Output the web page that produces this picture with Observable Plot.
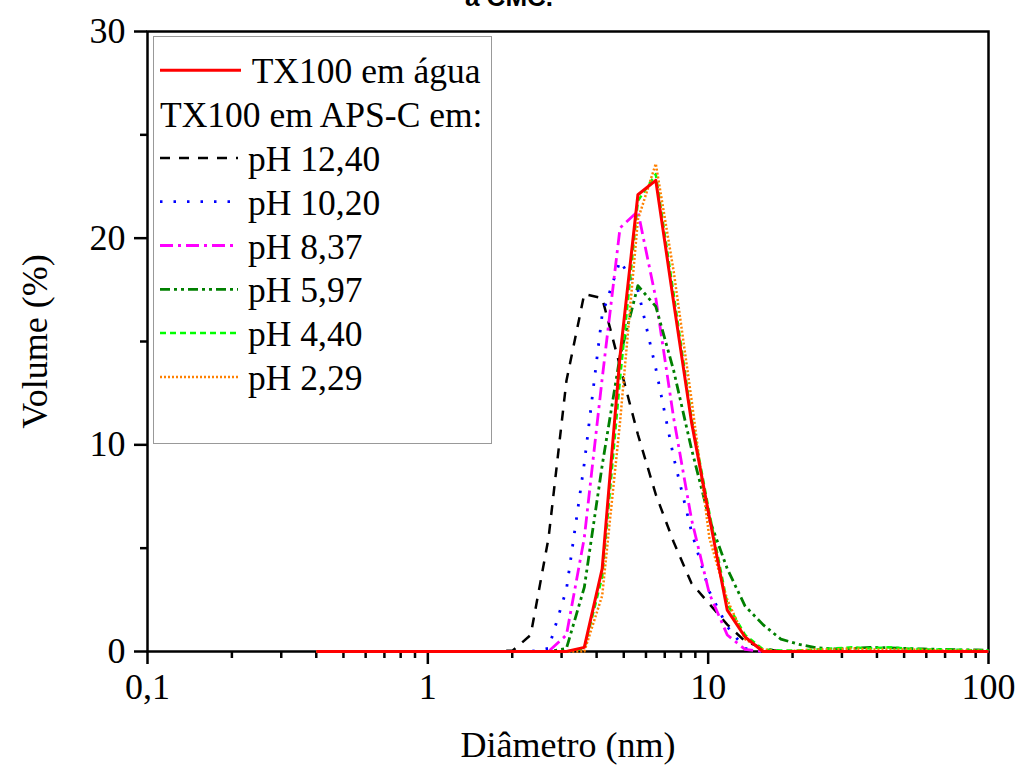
<!DOCTYPE html>
<html><head><meta charset="utf-8">
<script src="https://cdn.jsdelivr.net/npm/d3@7"></script>
<script src="https://cdn.jsdelivr.net/npm/@observablehq/plot@0.6"></script>
<style>
body{margin:0;background:#fff;}
#wrap{position:relative;width:1016px;height:765px;overflow:hidden;background:#fff;}
#legend{position:absolute;left:153px;top:36px;}
</style></head>
<body><div id="wrap"></div>
<script>
// Diameter bins (nm)
const diameters = [0.4, 0.4632, 0.5365, 0.6213, 0.7195, 0.8332, 0.9649, 1.117, 1.294, 1.499, 1.736, 2.01, 2.328, 2.696, 3.122, 3.615, 4.187, 4.849, 5.615, 6.503, 7.531, 8.721, 10.1, 11.7, 13.54, 15.69, 18.17, 21.04, 24.36, 28.21, 32.67, 37.84, 43.82, 50.75, 58.77, 68.06, 78.82, 91.28, 105.7];
// Volume (%) per series
const agua   = [0,0,0,0,0,0,0,0,0,0,0,0,0,0,0, 0.2, 4.0, 14.3, 22.1, 22.8, 16.9, 11.1, 6.5, 2.0, 0.7, 0, 0,0,0,0,0,0,0,0,0,0,0,0,0];
const ph1240 = [0,0,0,0,0,0,0,0,0,0,0, 0.05, 0.8, 5.5, 13.1, 17.3, 17.1, 13.8, 10.5, 7.6, 5.3, 3.3, 2.3, 1.3, 0.5, 0.15, 0, 0,0,0,0,0,0,0,0,0,0,0,0];
const ph1020 = [0,0,0,0,0,0,0,0,0,0,0,0,0, 0.15, 3.0, 9.1, 16.3, 18.9, 17.5, 13.7, 9.4, 5.8, 2.9, 1.2, 0.15, 0, 0,0,0,0,0,0,0,0,0,0,0,0,0];
const ph837  = [0,0,0,0,0,0,0,0,0,0,0,0,0,0, 0.8, 5.5, 13.2, 20.5, 21.3, 17.1, 11.3, 6.4, 2.8, 0.8, 0.1, 0, 0,0,0,0,0,0,0,0,0,0,0,0,0];
const ph597  = [0,0,0,0,0,0,0,0,0,0,0,0,0,0, 0.15, 3.1, 9.0, 14.3, 17.7, 16.7, 13.6, 9.8, 6.4, 4.0, 2.2, 1.3, 0.6, 0.35, 0.18, 0.12, 0.15, 0.2, 0.18, 0.15, 0.12, 0.1, 0.08, 0.08, 0.05];
const ph440  = [0,0,0,0,0,0,0,0,0,0,0,0,0,0,0, 0.15, 3.6, 13.2, 21.8, 23.1, 17.3, 11.3, 6.7, 2.3, 0.8, 0.1, 0.05, 0.05, 0.1, 0.15, 0.2, 0.15, 0.2, 0.15, 0.1, 0.1, 0.08, 0.05, 0.05];
const ph229  = [0,0,0,0,0,0,0,0,0,0,0,0,0,0,0, 0, 2.7, 11.1, 20.9, 23.6, 18.4, 12.2, 5.5, 2.5, 0.6, 0.1, 0, 0.05, 0.1, 0.1, 0.15, 0.1, 0.1, 0.1, 0.08, 0.05, 0.05, 0.05, 0];

const seriesNames = ["TX100 em água", "pH 12,40", "pH 10,20", "pH 8,37", "pH 5,97", "pH 4,40", "pH 2,29"];
const seriesValues = [agua, ph1240, ph1020, ph837, ph597, ph440, ph229];
const seriesColors = ["#ff0000", "#000000", "#0000ff", "#ff00ff", "#008000", "#00ff00", "#ff8000"];
const seriesDash = [null, "10,9", "2.5,11", "13,5,3,5", "10,4,3,4,3,4", "6,4", "2,2"];
const seriesWidth = [3, 2.5, 2.8, 2.8, 2.8, 2.5, 2.5];

const yMajor = [0, 10, 20, 30];
const yMinor = [5, 15, 25];
const xMajor = [0.1, 1, 10, 100];
const xMinor = [0.2,0.3,0.4,0.5,0.6,0.7,0.8,0.9, 2,3,4,5,6,7,8,9, 20,30,40,50,60,70,80,90];

const FONT = "Liberation Serif";

const series = seriesNames.map((name, k) => ({
  name, color: seriesColors[k], dash: seriesDash[k], width: seriesWidth[k],
  data: diameters.map((d, i) => ({d, v: seriesValues[k][i]}))
}));

// draw order: red on top
const drawOrder = [1, 2, 3, 4, 5, 6, 0];

const chart = Plot.plot({
  width: 1016, height: 765,
  marginTop: 31, marginLeft: 147, marginRight: 28, marginBottom: 114,
  x: {type: "log", domain: [0.1, 100], clamp: true},
  y: {domain: [0, 30]},
  style: {fontFamily: FONT, fontSize: "36px", color: "#000", background: "#fff", overflow: "visible"},
  marks: [
    Plot.axisY({ticks: yMajor, tickSize: 13, tickPadding: 9, strokeWidth: 2.5, fontSize: 36, fontFamily: FONT, label: null, tickFormat: d => String(d)}),
    Plot.axisY({ticks: yMinor, tickSize: 7, strokeWidth: 2.5, label: null, tickFormat: () => ""}),
    Plot.axisX({ticks: xMajor, tickSize: 13, tickPadding: 9, strokeWidth: 2.5, fontSize: 36, fontFamily: FONT, label: null, tickFormat: d => String(d).replace(".", ",")}),
    Plot.axisX({ticks: xMinor, tickSize: 7, strokeWidth: 2.5, label: null, tickFormat: () => ""}),
    Plot.frame({stroke: "#000", strokeWidth: 2.5}),
    Plot.text(["Volume (%)"], {frameAnchor: "left", dx: -112, rotate: -90, lineAnchor: "middle", textAnchor: "middle", fontSize: 36, fontFamily: FONT, fill: "#000"}),
    Plot.text(["Diâmetro (nm)"], {frameAnchor: "bottom", dy: 94, lineAnchor: "middle", fontSize: 36, fontFamily: FONT, fill: "#000"}),
    Plot.text(["a CMC."], {frameAnchor: "top", dx: -59, dy: -34, lineAnchor: "middle", fontSize: 26, fontFamily: "Liberation Sans", fontWeight: "bold", fill: "#000"}),
    ...drawOrder.map(k => Plot.line(series[k].data, {
      x: "d", y: "v", stroke: series[k].color, strokeWidth: series[k].width,
      strokeDasharray: series[k].dash, strokeLinejoin: "round", strokeLinecap: "butt", curve: "linear"
    }))
  ]
});

const wrap = document.getElementById("wrap");
wrap.appendChild(chart);

// Legend (inside plot area, top-left)
const lg = d3.select(wrap).append("svg").attr("id", "legend")
  .attr("width", 339).attr("height", 408)
  .style("font-family", FONT).style("font-size", "35.5px");
lg.append("rect").attr("x", 0.5).attr("y", 0.5).attr("width", 338).attr("height", 407)
  .attr("fill", "#fff").attr("stroke", "#999").attr("stroke-width", 1);

const legendRows = [
  {k: 0, text: seriesNames[0], base: 47.3, tx: 98.7, x2: 88},
  {k: null, text: "TX100 em APS-C em:", base: 91, tx: 7},
  {k: 1, text: seriesNames[1], base: 135, tx: 95, x2: 85},
  {k: 2, text: seriesNames[2], base: 178.7, tx: 95, x2: 80},
  {k: 3, text: seriesNames[3], base: 222.5, tx: 95, x2: 85},
  {k: 4, text: seriesNames[4], base: 266.3, tx: 95, x2: 85},
  {k: 5, text: seriesNames[5], base: 310.1, tx: 95, x2: 85},
  {k: 6, text: seriesNames[6], base: 353.9, tx: 95, x2: 86}
];
for (const r of legendRows) {
  if (r.k !== null) {
    const s = series[r.k];
    lg.append("line").attr("x1", 7).attr("x2", r.x2)
      .attr("y1", r.base - 13).attr("y2", r.base - 13)
      .attr("stroke", s.color).attr("stroke-width", s.width)
      .attr("stroke-dasharray", s.dash);
  }
  lg.append("text").attr("x", r.tx).attr("y", r.base).attr("fill", "#000").text(r.text);
}
</script>
</body></html>
